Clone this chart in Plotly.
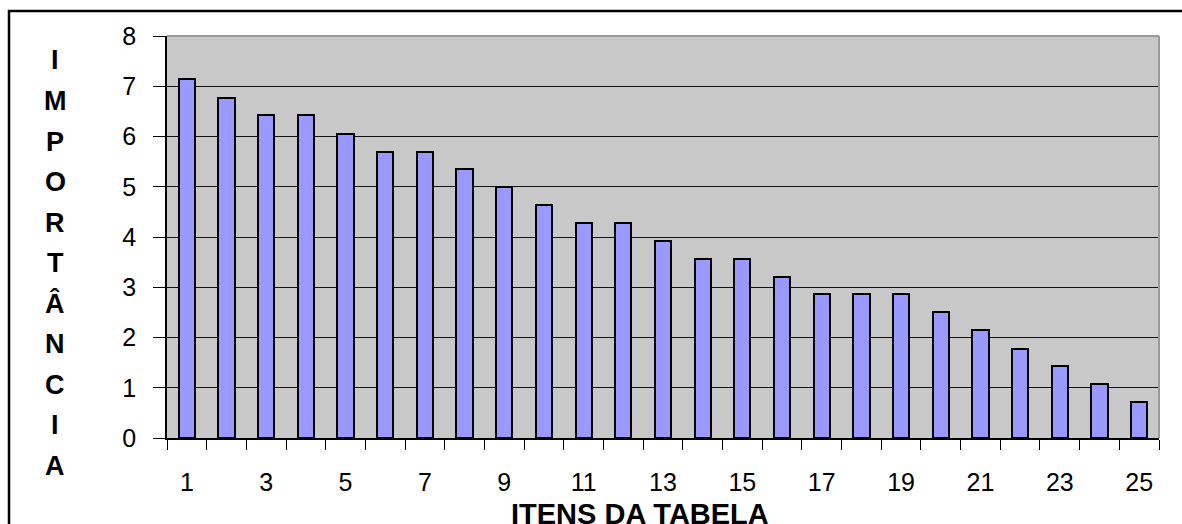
import plotly.graph_objects as go

# Item numbers and their importance scores
itens = list(range(1, 26))
importancia = [7.14, 6.77, 6.42, 6.42, 6.05, 5.70, 5.70, 5.35, 4.99, 4.64,
               4.27, 4.27, 3.93, 3.56, 3.56, 3.21, 2.87, 2.87, 2.87, 2.50,
               2.14, 1.78, 1.43, 1.07, 0.72]
x_tick_vals = list(range(1, 26, 2))
x_tick_text = [str(v) for v in x_tick_vals]
y_title_letters = list("IMPORTÂNCIA")
x_title = "ITENS DA TABELA"

W, H = 1182, 524
L, R, T, B = 167, 23, 36, 86
pw, ph = W - L - R, H - T - B


def px_x(px):
    return (px - L) / pw


def px_y(py):
    return 1 - (py - T) / ph


font_family = "Liberation Sans, Arial, sans-serif"

fig = go.Figure()
fig.add_trace(go.Bar(
    x=itens,
    y=importancia,
    width=0.41,
    marker=dict(color="#9999FF", line=dict(color="black", width=2)),
    hoverinfo="x+y",
))

fig.update_layout(
    width=W, height=H,
    margin=dict(l=L, r=R, t=T, b=B, pad=0),
    paper_bgcolor="white",
    plot_bgcolor="#C8C8C8",
    showlegend=False,
    bargap=0,
    font=dict(family=font_family, color="black", size=25),
)

fig.update_xaxes(
    range=[0.5, 25.5],
    tickmode="array",
    tickvals=x_tick_vals,
    ticktext=x_tick_text,
    ticks="",
    ticklabelstandoff=21,
    tickfont=dict(size=25, color="black", family=font_family),
    showgrid=False,
    zeroline=False,
    showline=True,
    linecolor="black",
    linewidth=2,
    minor=dict(
        tickvals=[i + 0.5 for i in range(0, 26)],
        ticks="outside",
        ticklen=10,
        tickwidth=1,
        tickcolor="black",
        showgrid=False,
    ),
)

fig.update_yaxes(
    range=[0, 8],
    tickmode="linear",
    tick0=0,
    dtick=1,
    ticks="outside",
    ticklen=12,
    tickwidth=1,
    tickcolor="black",
    ticklabelstandoff=12,
    tickfont=dict(size=25, color="black", family=font_family),
    showgrid=True,
    gridcolor="#111111",
    gridwidth=1,
    zeroline=False,
    showline=True,
    linecolor="black",
    linewidth=1.5,
)

# Gray frame on the top and right of the plot area
fig.add_shape(type="line", xref="paper", yref="paper",
              x0=0, x1=1, y0=1, y1=1,
              line=dict(color="#999999", width=2), layer="above")
fig.add_shape(type="line", xref="paper", yref="paper",
              x0=1, x1=1, y0=0, y1=1,
              line=dict(color="#999999", width=2), layer="above")

# Outer chart border
fig.add_shape(type="rect", xref="paper", yref="paper",
              x0=px_x(9), x1=px_x(1200), y0=px_y(560), y1=px_y(11),
              line=dict(color="black", width=2.5), fillcolor="rgba(0,0,0,0)",
              layer="above")

# Vertical y-axis title, one letter per line
y0_px, step_px = 60.5, 40.5
for i, ch in enumerate(y_title_letters):
    fig.add_annotation(
        text=ch, xref="paper", yref="paper",
        x=px_x(55), y=px_y(y0_px + i * step_px),
        xanchor="center", yanchor="middle", showarrow=False,
        font=dict(size=27, family=font_family, color="black", weight="bold"),
    )

fig.add_annotation(
    text=x_title, xref="paper", yref="paper",
    x=px_x(640), y=px_y(514),
    xanchor="center", yanchor="middle", showarrow=False,
    font=dict(size=29, family=font_family, color="black", weight="bold"),
)

fig.write_html("out.html")
